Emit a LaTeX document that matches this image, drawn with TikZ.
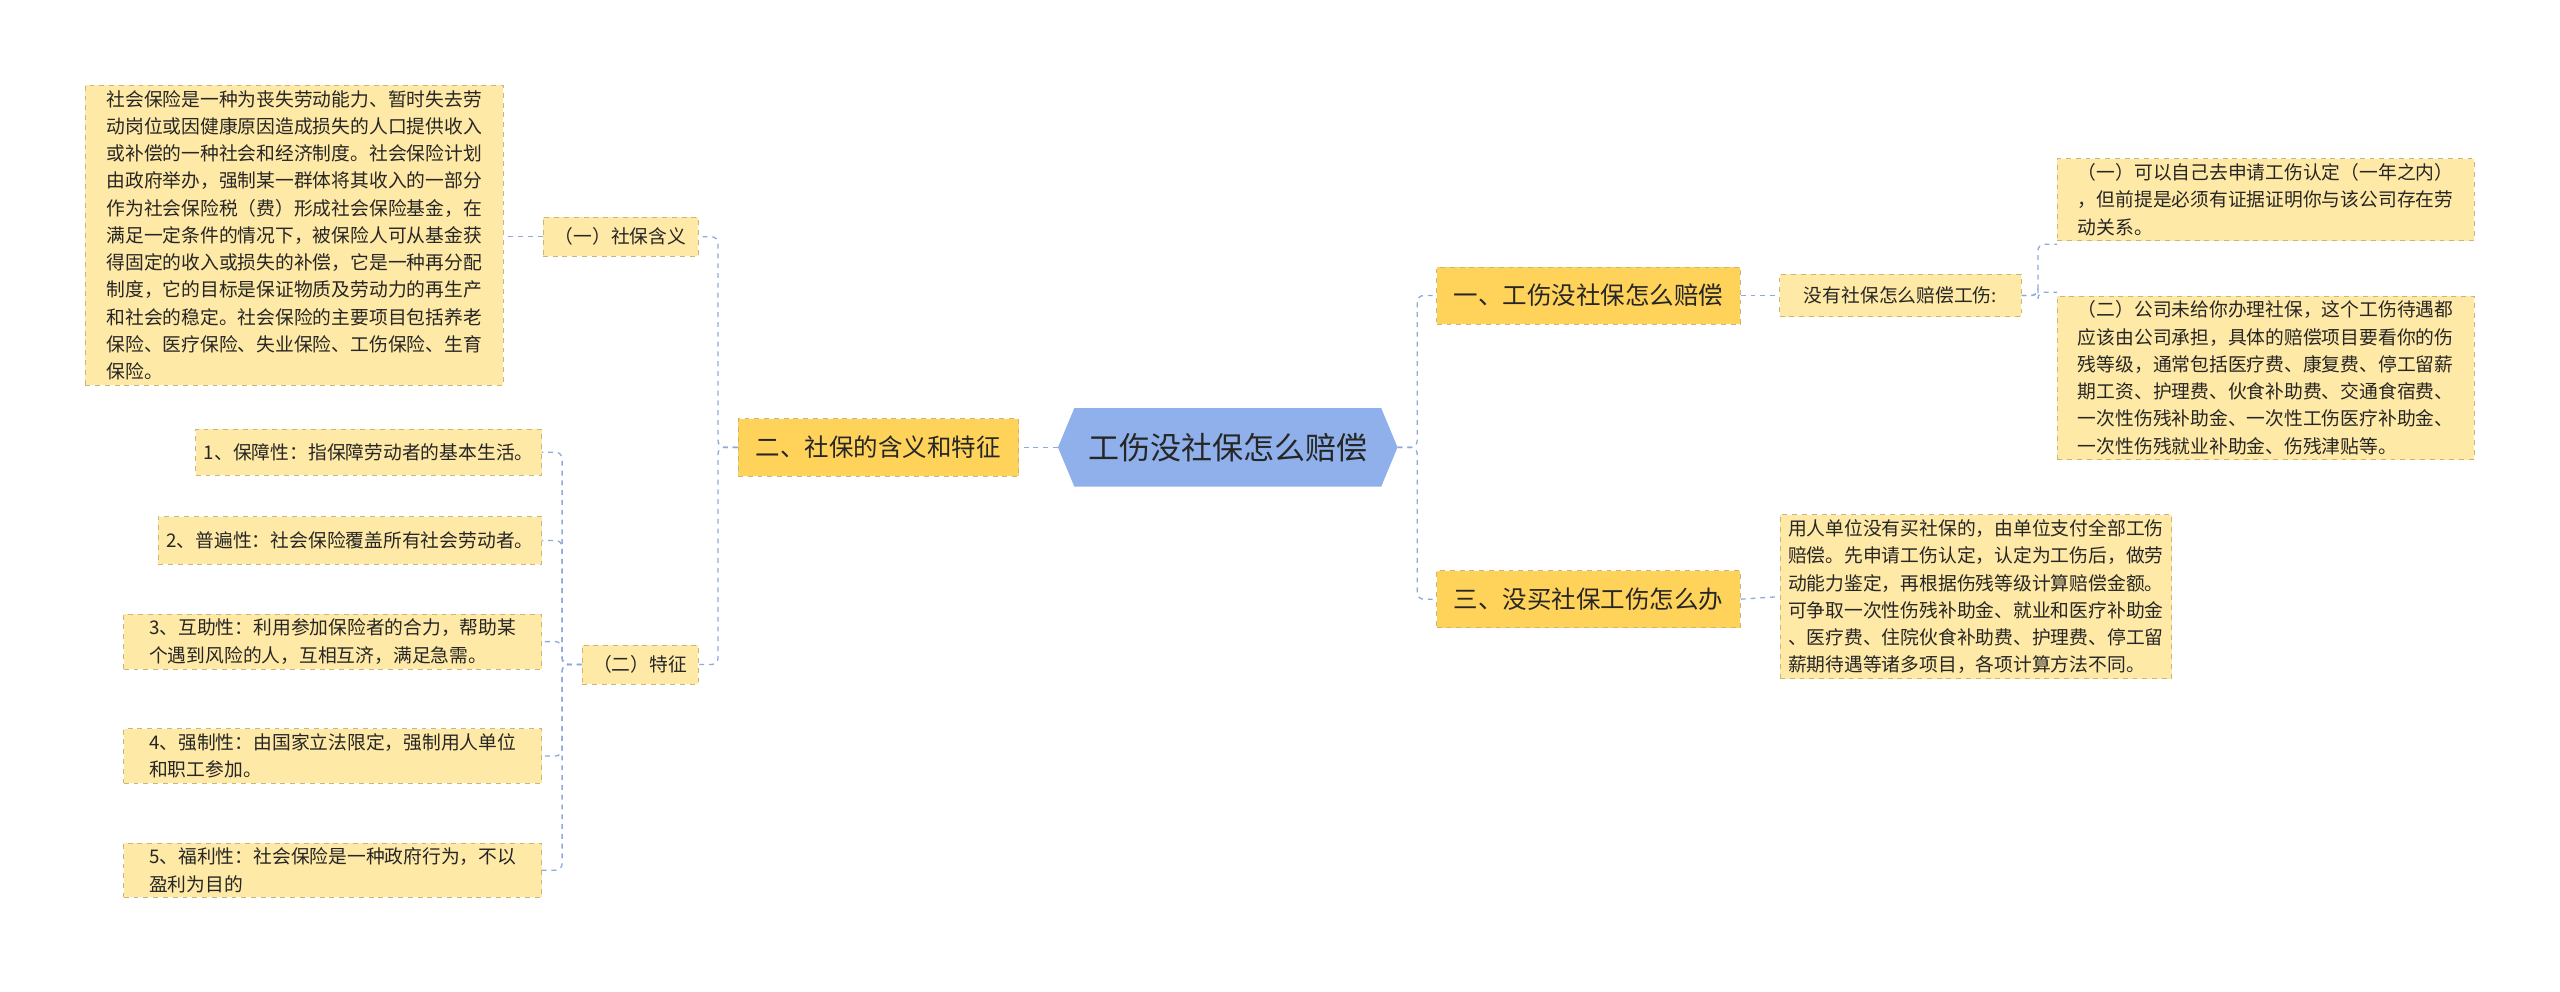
\documentclass[tikz,border=0pt]{standalone}
\usepackage{fontspec}
\setmainfont{Noto Sans CJK SC}
\definecolor{lk}{HTML}{8FA9DC}
\definecolor{lf}{HTML}{FFE9A6}
\definecolor{bf}{HTML}{FFD35A}
\definecolor{bd}{HTML}{C9B77A}
\definecolor{cb}{HTML}{8FB0EA}
\tikzset{
 leaf/.style={draw=bd,dashed,fill=lf,anchor=north west,align=left,inner xsep=5pt,inner ysep=3pt,
   font=\fontsize{11.5}{16.7}\selectfont,text=black!85},
 br/.style={draw=bd,dashed,fill=bf,minimum height=35pt,font=\fontsize{15}{18}\selectfont,text=black!85},
 lnk/.style={draw=lk,dashed,line width=0.8pt,rounded corners=4pt}
}
\begin{document}
\begin{tikzpicture}[x=1pt,y=-1pt]
\useasboundingbox (0,0) rectangle (1568,607);
% centre
\fill[cb] (648,274)--(658,250)--(846,250)--(856,274)--(846,298)--(658,298)--cycle;
\node[font=\fontsize{19}{22}\selectfont,text=black!85] (c) at (752,274) {工伤没社保怎么赔偿};
\coordinate (cr) at (856,274); \coordinate (cl) at (648,274);
% right branches
\node[br,minimum width=186pt] (b1) at (973,181) {一、工伤没社保怎么赔偿};
\node[br,minimum width=186pt] (b3) at (973,367) {三、没买社保工伤怎么办};
\node[br,minimum width=172pt] (b2) at (538,274) {二、社保的含义和特征};
\node[leaf,anchor=center,minimum width=148pt,minimum height=26pt] (s1) at (1164,181) {没有社保怎么赔偿工伤:};
\node[leaf,minimum width=255pt] (r1) at (1260,97) {（一）可以自己去申请工伤认定（一年之内）\\，但前提是必须有证据证明你与该公司存在劳\\动关系。};
\node[leaf,minimum width=255pt] (r2) at (1260,181) {（二）公司未给你办理社保，这个工伤待遇都\\应该由公司承担，具体的赔偿项目要看你的伤\\残等级，通常包括医疗费、康复费、停工留薪\\期工资、护理费、伙食补助费、交通食宿费、\\一次性伤残补助金、一次性工伤医疗补助金、\\一次性伤残就业补助金、伤残津贴等。};
\node[leaf,minimum width=228pt] (r3) at (1090,315) {用人单位没有买社保的，由单位支付全部工伤\\赔偿。先申请工伤认定，认定为工伤后，做劳\\动能力鉴定，再根据伤残等级计算赔偿金额。\\可争取一次性伤残补助金、就业和医疗补助金\\、医疗费、住院伙食补助费、护理费、停工留\\薪期待遇等诸多项目，各项计算方法不同。};
% left
\node[leaf,anchor=center,minimum width=95pt,minimum height=24pt] (l1) at (380,145) {（一）社保含义};
\node[leaf,anchor=center,minimum width=71pt,minimum height=24pt] (l2) at (392,407) {（二）特征};
\node[leaf,minimum width=256pt] (t0) at (52,52) {社会保险是一种为丧失劳动能力、暂时失去劳\\动岗位或因健康原因造成损失的人口提供收入\\或补偿的一种社会和经济制度。社会保险计划\\由政府举办，强制某一群体将其收入的一部分\\作为社会保险税（费）形成社会保险基金，在\\满足一定条件的情况下，被保险人可从基金获\\得固定的收入或损失的补偿，它是一种再分配\\制度，它的目标是保证物质及劳动力的再生产\\和社会的稳定。社会保险的主要项目包括养老\\保险、医疗保险、失业保险、工伤保险、生育\\保险。};
\node[leaf,anchor=east,minimum height=28pt] (t1) at (332,277) {1、保障性：指保障劳动者的基本生活。};
\node[leaf,anchor=east,minimum height=29pt] (t2) at (332,331) {2、普遍性：社会保险覆盖所有社会劳动者。};
\node[leaf,anchor=east,minimum width=256pt] (t3) at (332,393) {3、互助性：利用参加保险者的合力，帮助某\\个遇到风险的人，互相互济，满足急需。};
\node[leaf,anchor=east,minimum width=256pt] (t4) at (332,463) {4、强制性：由国家立法限定，强制用人单位\\和职工参加。};
\node[leaf,anchor=east,minimum width=256pt] (t5) at (332,533) {5、福利性：社会保险是一种政府行为，不以\\盈利为目的};
% links
\draw[lnk] (cr) -- ++(12,0) |- (b1.west);
\draw[lnk] (cr) -- ++(12,0) |- (b3.west);
\draw[lnk] (cl) -- (b2.east);
\draw[lnk] (b1.east) -- (s1.west);
\draw[lnk] (b3.east) -- (r3.west);
\draw[lnk] (s1.east) -- ++(10,0) |- ([yshift=-2pt]r1.south west);
\draw[lnk] (s1.east) -- ++(10,0) |- ([yshift=2pt]r2.north west);
\draw[lnk] (b2.west) -- ++(-12,0) |- (l1.east);
\draw[lnk] (b2.west) -- ++(-12,0) |- (l2.east);
\draw[lnk] (l1.west) -- (t0.east |- l1.west);
\foreach \t in {t1,t2,t3,t4,t5}{\draw[lnk] (l2.west) -- ++(-12,0) |- (\t.east);}
\end{tikzpicture}
\end{document}
